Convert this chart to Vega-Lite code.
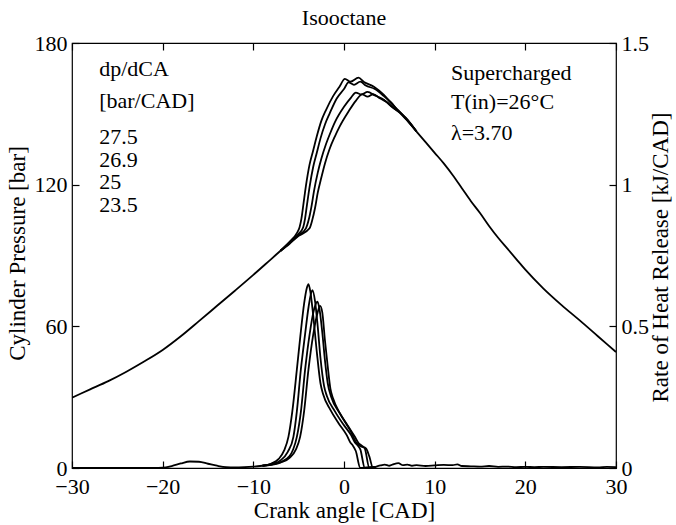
{
  "$schema": "https://vega.github.io/schema/vega-lite/v6.json",
  "width": 544,
  "height": 425,
  "autosize": {"type": "none"},
  "padding": {"left": 72, "top": 43, "right": 60, "bottom": 57},
  "background": "white",
  "title": {"text": "Isooctane", "font": "Liberation Serif", "fontSize": 22, "fontWeight": "normal", "color": "black", "offset": 2},
  "config": {
    "view": {"stroke": "black", "strokeWidth": 1.2},
    "font": "Liberation Serif",
    "axis": {
      "domain": false, "grid": false, "tickColor": "black", "tickWidth": 1.2, "tickSize": 7, "offset": -7,
      "labelFont": "Liberation Serif", "labelFontSize": 22, "labelColor": "black",
      "titleFont": "Liberation Serif", "titleFontSize": 23, "titleFontWeight": "normal", "titleColor": "black"
    }
  },
  "datasets": {
    "pressure": [
      {"run": "shared_pre", "cad": -30, "p": 29.8}, {"run": "shared_pre", "cad": -28, "p": 33.3}, {"run": "shared_pre", "cad": -26, "p": 36.8},
      {"run": "shared_pre", "cad": -24, "p": 40.8}, {"run": "shared_pre", "cad": -22, "p": 45.2}, {"run": "shared_pre", "cad": -20, "p": 50.0},
      {"run": "shared_pre", "cad": -18, "p": 55.8}, {"run": "shared_pre", "cad": -16, "p": 62.2}, {"run": "shared_pre", "cad": -14, "p": 68.7},
      {"run": "shared_pre", "cad": -12, "p": 75.2}, {"run": "shared_pre", "cad": -10, "p": 81.8}, {"run": "shared_pre", "cad": -8, "p": 88.6},
      {"run": "shared_pre", "cad": -7, "p": 92.0},

      {"run": "27.5", "cad": -7, "p": 92.0}, {"run": "27.5", "cad": -6, "p": 95.8}, {"run": "27.5", "cad": -5.2, "p": 99.5},
      {"run": "27.5", "cad": -4.9, "p": 102}, {"run": "27.5", "cad": -4.7, "p": 105.5}, {"run": "27.5", "cad": -4.5, "p": 111},
      {"run": "27.5", "cad": -4.2, "p": 119.5}, {"run": "27.5", "cad": -3.8, "p": 128.5}, {"run": "27.5", "cad": -3.4, "p": 134.5},
      {"run": "27.5", "cad": -3.0, "p": 140.5}, {"run": "27.5", "cad": -2.5, "p": 147}, {"run": "27.5", "cad": -2.0, "p": 151.5},
      {"run": "27.5", "cad": -1.2, "p": 157.5}, {"run": "27.5", "cad": -0.5, "p": 161.5}, {"run": "27.5", "cad": 0.1, "p": 164.8},
      {"run": "27.5", "cad": 0.7, "p": 163.6}, {"run": "27.5", "cad": 1.6, "p": 165.3}, {"run": "27.5", "cad": 2.2, "p": 163.5},
      {"run": "27.5", "cad": 3.3, "p": 161.5}, {"run": "27.5", "cad": 4.4, "p": 158}, {"run": "27.5", "cad": 5.2, "p": 154.5},
      {"run": "27.5", "cad": 6, "p": 151.5}, {"run": "27.5", "cad": 7, "p": 147.3}, {"run": "27.5", "cad": 8, "p": 142.5},

      {"run": "26.9", "cad": -7, "p": 92.0}, {"run": "26.9", "cad": -6, "p": 95.6}, {"run": "26.9", "cad": -5, "p": 99.2},
      {"run": "26.9", "cad": -4.5, "p": 102}, {"run": "26.9", "cad": -4.3, "p": 105.5}, {"run": "26.9", "cad": -4.1, "p": 111},
      {"run": "26.9", "cad": -3.8, "p": 119}, {"run": "26.9", "cad": -3.4, "p": 127.5}, {"run": "26.9", "cad": -3.0, "p": 133.5},
      {"run": "26.9", "cad": -2.6, "p": 139.5}, {"run": "26.9", "cad": -2.1, "p": 145.5}, {"run": "26.9", "cad": -1.6, "p": 150},
      {"run": "26.9", "cad": -0.8, "p": 156.5}, {"run": "26.9", "cad": 0, "p": 160.5}, {"run": "26.9", "cad": 0.5, "p": 163.3},
      {"run": "26.9", "cad": 1.1, "p": 162.3}, {"run": "26.9", "cad": 1.8, "p": 163.6}, {"run": "26.9", "cad": 2.4, "p": 162},
      {"run": "26.9", "cad": 3.4, "p": 160.5}, {"run": "26.9", "cad": 4.4, "p": 157.5}, {"run": "26.9", "cad": 5.2, "p": 154.8},
      {"run": "26.9", "cad": 6, "p": 151.2}, {"run": "26.9", "cad": 7, "p": 147.6}, {"run": "26.9", "cad": 8, "p": 142.5},

      {"run": "25", "cad": -7, "p": 92.0}, {"run": "25", "cad": -6, "p": 95.3}, {"run": "25", "cad": -5, "p": 98.6},
      {"run": "25", "cad": -4.2, "p": 101.5}, {"run": "25", "cad": -3.9, "p": 105}, {"run": "25", "cad": -3.6, "p": 110.5},
      {"run": "25", "cad": -3.3, "p": 117.5}, {"run": "25", "cad": -2.9, "p": 125}, {"run": "25", "cad": -2.5, "p": 131},
      {"run": "25", "cad": -2.0, "p": 137}, {"run": "25", "cad": -1.5, "p": 142}, {"run": "25", "cad": -1, "p": 146.5},
      {"run": "25", "cad": 0, "p": 153}, {"run": "25", "cad": 0.8, "p": 157}, {"run": "25", "cad": 1.3, "p": 159},
      {"run": "25", "cad": 1.9, "p": 158.2}, {"run": "25", "cad": 2.6, "p": 159.3}, {"run": "25", "cad": 3.4, "p": 157.8},
      {"run": "25", "cad": 4.4, "p": 156}, {"run": "25", "cad": 5.2, "p": 153.2}, {"run": "25", "cad": 6, "p": 151},
      {"run": "25", "cad": 7, "p": 147}, {"run": "25", "cad": 8, "p": 142.5},

      {"run": "23.5", "cad": -7, "p": 92.0}, {"run": "23.5", "cad": -6, "p": 95}, {"run": "23.5", "cad": -5, "p": 98.3},
      {"run": "23.5", "cad": -3.8, "p": 101.5}, {"run": "23.5", "cad": -3.5, "p": 105}, {"run": "23.5", "cad": -3.2, "p": 110},
      {"run": "23.5", "cad": -2.9, "p": 116.5}, {"run": "23.5", "cad": -2.5, "p": 123}, {"run": "23.5", "cad": -2.1, "p": 129},
      {"run": "23.5", "cad": -1.6, "p": 135}, {"run": "23.5", "cad": -1.0, "p": 140.5}, {"run": "23.5", "cad": -0.5, "p": 144.5},
      {"run": "23.5", "cad": 0.5, "p": 151}, {"run": "23.5", "cad": 1.3, "p": 155.5}, {"run": "23.5", "cad": 2.0, "p": 158.2},
      {"run": "23.5", "cad": 2.6, "p": 157.3}, {"run": "23.5", "cad": 3.2, "p": 158.3}, {"run": "23.5", "cad": 4.0, "p": 156.5},
      {"run": "23.5", "cad": 4.8, "p": 154.8}, {"run": "23.5", "cad": 5.5, "p": 152.3}, {"run": "23.5", "cad": 6.2, "p": 150.5},
      {"run": "23.5", "cad": 7, "p": 147.2}, {"run": "23.5", "cad": 8, "p": 142.5},

      {"run": "shared_post", "cad": 8, "p": 142.5}, {"run": "shared_post", "cad": 9, "p": 138}, {"run": "shared_post", "cad": 10, "p": 133.5},
      {"run": "shared_post", "cad": 11, "p": 129}, {"run": "shared_post", "cad": 12, "p": 124}, {"run": "shared_post", "cad": 13, "p": 118.5},
      {"run": "shared_post", "cad": 14, "p": 113}, {"run": "shared_post", "cad": 15, "p": 108}, {"run": "shared_post", "cad": 16, "p": 102.5},
      {"run": "shared_post", "cad": 17, "p": 97.5}, {"run": "shared_post", "cad": 18, "p": 93}, {"run": "shared_post", "cad": 19, "p": 88.5},
      {"run": "shared_post", "cad": 20, "p": 84}, {"run": "shared_post", "cad": 22, "p": 76}, {"run": "shared_post", "cad": 24, "p": 69},
      {"run": "shared_post", "cad": 26, "p": 62.5}, {"run": "shared_post", "cad": 28, "p": 55.8}, {"run": "shared_post", "cad": 30, "p": 49.1}
    ],
    "hrr": [
      {"run": "shared_pre", "cad": -30, "q": 0}, {"run": "shared_pre", "cad": -21, "q": 0}, {"run": "shared_pre", "cad": -20, "q": 0.001},
      {"run": "shared_pre", "cad": -19, "q": 0.007}, {"run": "shared_pre", "cad": -18, "q": 0.016}, {"run": "shared_pre", "cad": -17, "q": 0.023},
      {"run": "shared_pre", "cad": -16, "q": 0.022}, {"run": "shared_pre", "cad": -15, "q": 0.015}, {"run": "shared_pre", "cad": -14, "q": 0.008},
      {"run": "shared_pre", "cad": -13, "q": 0.003}, {"run": "shared_pre", "cad": -12, "q": 0.002}, {"run": "shared_pre", "cad": -11, "q": 0.003},
      {"run": "shared_pre", "cad": -10, "q": 0.005}, {"run": "shared_pre", "cad": -9, "q": 0.008},

      {"run": "27.5", "cad": -9, "q": 0.008}, {"run": "27.5", "cad": -8, "q": 0.016}, {"run": "27.5", "cad": -7.2, "q": 0.032},
      {"run": "27.5", "cad": -6.6, "q": 0.062}, {"run": "27.5", "cad": -6.13, "q": 0.11}, {"run": "27.5", "cad": -5.7, "q": 0.2},
      {"run": "27.5", "cad": -5.2, "q": 0.347}, {"run": "27.5", "cad": -4.8, "q": 0.47}, {"run": "27.5", "cad": -4.4, "q": 0.58},
      {"run": "27.5", "cad": -4.1, "q": 0.635}, {"run": "27.5", "cad": -3.92, "q": 0.649}, {"run": "27.5", "cad": -3.7, "q": 0.62},
      {"run": "27.5", "cad": -3.4, "q": 0.54}, {"run": "27.5", "cad": -3.0, "q": 0.41}, {"run": "27.5", "cad": -2.6, "q": 0.3},
      {"run": "27.5", "cad": -2.3, "q": 0.26}, {"run": "27.5", "cad": -1.5, "q": 0.205}, {"run": "27.5", "cad": -0.6, "q": 0.158},
      {"run": "27.5", "cad": 0.3, "q": 0.116}, {"run": "27.5", "cad": 0.7, "q": 0.09}, {"run": "27.5", "cad": 1.0, "q": 0.078},
      {"run": "27.5", "cad": 1.3, "q": 0.06}, {"run": "27.5", "cad": 1.8, "q": 0.0}, {"run": "27.5", "cad": 2.5, "q": 0.002},
      {"run": "27.5", "cad": 3.5, "q": 0.004},

      {"run": "26.9", "cad": -9, "q": 0.008}, {"run": "26.9", "cad": -8, "q": 0.014}, {"run": "26.9", "cad": -7, "q": 0.027},
      {"run": "26.9", "cad": -6.2, "q": 0.057}, {"run": "26.9", "cad": -5.58, "q": 0.11}, {"run": "26.9", "cad": -5.2, "q": 0.2},
      {"run": "26.9", "cad": -4.76, "q": 0.347}, {"run": "26.9", "cad": -4.3, "q": 0.47}, {"run": "26.9", "cad": -3.9, "q": 0.57},
      {"run": "26.9", "cad": -3.6, "q": 0.62}, {"run": "26.9", "cad": -3.48, "q": 0.628}, {"run": "26.9", "cad": -3.2, "q": 0.59},
      {"run": "26.9", "cad": -2.9, "q": 0.5}, {"run": "26.9", "cad": -2.6, "q": 0.39}, {"run": "26.9", "cad": -2.2, "q": 0.29},
      {"run": "26.9", "cad": -1.9, "q": 0.255}, {"run": "26.9", "cad": -1.0, "q": 0.2}, {"run": "26.9", "cad": -0.1, "q": 0.155},
      {"run": "26.9", "cad": 0.8, "q": 0.115}, {"run": "26.9", "cad": 1.2, "q": 0.09}, {"run": "26.9", "cad": 1.5, "q": 0.08},
      {"run": "26.9", "cad": 1.8, "q": 0.066}, {"run": "26.9", "cad": 2.3, "q": 0.0}, {"run": "26.9", "cad": 3, "q": 0.002},
      {"run": "26.9", "cad": 3.5, "q": 0.004},

      {"run": "25", "cad": -9, "q": 0.008}, {"run": "25", "cad": -8, "q": 0.012}, {"run": "25", "cad": -7, "q": 0.021},
      {"run": "25", "cad": -6, "q": 0.042}, {"run": "25", "cad": -5.6, "q": 0.066}, {"run": "25", "cad": -5.2, "q": 0.11},
      {"run": "25", "cad": -4.75, "q": 0.2}, {"run": "25", "cad": -4.29, "q": 0.347}, {"run": "25", "cad": -3.8, "q": 0.47},
      {"run": "25", "cad": -3.3, "q": 0.56}, {"run": "25", "cad": -2.93, "q": 0.587}, {"run": "25", "cad": -2.7, "q": 0.56},
      {"run": "25", "cad": -2.4, "q": 0.48}, {"run": "25", "cad": -2.1, "q": 0.38}, {"run": "25", "cad": -1.8, "q": 0.3},
      {"run": "25", "cad": -1.4, "q": 0.25}, {"run": "25", "cad": -0.5, "q": 0.195}, {"run": "25", "cad": 0.4, "q": 0.15},
      {"run": "25", "cad": 1.2, "q": 0.11}, {"run": "25", "cad": 1.6, "q": 0.088}, {"run": "25", "cad": 2.0, "q": 0.078},
      {"run": "25", "cad": 2.3, "q": 0.068}, {"run": "25", "cad": 2.8, "q": 0.0}, {"run": "25", "cad": 3.5, "q": 0.004},

      {"run": "23.5", "cad": -9, "q": 0.008}, {"run": "23.5", "cad": -8, "q": 0.011}, {"run": "23.5", "cad": -7, "q": 0.019},
      {"run": "23.5", "cad": -6, "q": 0.036}, {"run": "23.5", "cad": -5.3, "q": 0.066}, {"run": "23.5", "cad": -4.84, "q": 0.11},
      {"run": "23.5", "cad": -4.4, "q": 0.2}, {"run": "23.5", "cad": -3.92, "q": 0.347}, {"run": "23.5", "cad": -3.4, "q": 0.47},
      {"run": "23.5", "cad": -2.9, "q": 0.55}, {"run": "23.5", "cad": -2.64, "q": 0.572}, {"run": "23.5", "cad": -2.4, "q": 0.55},
      {"run": "23.5", "cad": -2.1, "q": 0.45}, {"run": "23.5", "cad": -1.8, "q": 0.36}, {"run": "23.5", "cad": -1.5, "q": 0.28},
      {"run": "23.5", "cad": -1.2, "q": 0.245}, {"run": "23.5", "cad": -0.4, "q": 0.19}, {"run": "23.5", "cad": 0.67, "q": 0.134},
      {"run": "23.5", "cad": 1.41, "q": 0.087}, {"run": "23.5", "cad": 1.9, "q": 0.076}, {"run": "23.5", "cad": 2.43, "q": 0.069},
      {"run": "23.5", "cad": 2.8, "q": 0.04}, {"run": "23.5", "cad": 3.2, "q": 0.0}, {"run": "23.5", "cad": 3.5, "q": 0.004},

      {"run": "tail", "cad": 3.5, "q": 0.004}, {"run": "tail", "cad": 4, "q": 0.009}, {"run": "tail", "cad": 4.5, "q": 0.012},
      {"run": "tail", "cad": 5, "q": 0.008}, {"run": "tail", "cad": 5.5, "q": 0.014}, {"run": "tail", "cad": 6, "q": 0.017},
      {"run": "tail", "cad": 6.5, "q": 0.01}, {"run": "tail", "cad": 7, "q": 0.012}, {"run": "tail", "cad": 7.5, "q": 0.008},
      {"run": "tail", "cad": 8, "q": 0.01}, {"run": "tail", "cad": 9, "q": 0.007}, {"run": "tail", "cad": 10, "q": 0.009},
      {"run": "tail", "cad": 11, "q": 0.011}, {"run": "tail", "cad": 12, "q": 0.01}, {"run": "tail", "cad": 12.5, "q": 0.013},
      {"run": "tail", "cad": 13, "q": 0.007}, {"run": "tail", "cad": 14, "q": 0.006}, {"run": "tail", "cad": 15, "q": 0.005},
      {"run": "tail", "cad": 16, "q": 0.007}, {"run": "tail", "cad": 17, "q": 0.004}, {"run": "tail", "cad": 18, "q": 0.005},
      {"run": "tail", "cad": 19, "q": 0.003}, {"run": "tail", "cad": 20, "q": 0.004}, {"run": "tail", "cad": 21, "q": 0.003},
      {"run": "tail", "cad": 22, "q": 0.004}, {"run": "tail", "cad": 24, "q": 0.003}, {"run": "tail", "cad": 26, "q": 0.004},
      {"run": "tail", "cad": 28, "q": 0.002}, {"run": "tail", "cad": 29, "q": 0.004}, {"run": "tail", "cad": 30, "q": 0.003}
    ],
    "notes": [
      {"label": "dp/dCA", "cad": -27.0, "p": 169},
      {"label": "[bar/CAD]", "cad": -27.0, "p": 155.5},
      {"label": "27.5", "cad": -27.0, "p": 140},
      {"label": "26.9", "cad": -27.0, "p": 130.5},
      {"label": "25", "cad": -27.0, "p": 121},
      {"label": "23.5", "cad": -27.0, "p": 111.5},
      {"label": "Supercharged", "cad": 11.8, "p": 167.5},
      {"label": "T(in)=26°C", "cad": 11.8, "p": 155},
      {"label": "λ=3.70", "cad": 11.8, "p": 142}
    ]
  },
  "layer": [
    {
      "data": {"name": "pressure"},
      "mark": {"type": "line", "color": "black", "strokeWidth": 1.8, "interpolate": "monotone", "clip": true},
      "encoding": {
        "x": {"field": "cad", "type": "quantitative", "scale": {"domain": [-30, 30], "nice": false, "zero": false},
              "axis": {"orient": "bottom", "values": [-30, -20, -10, 0, 10, 20, 30], "labelPadding": 8, "title": "Crank angle [CAD]", "titleX": 272, "titleY": 49, "titleBaseline": "middle", "titleAlign": "center", "labelFlush": false}},
        "y": {"field": "p", "type": "quantitative", "scale": {"domain": [0, 180], "nice": false, "zero": false},
              "axis": {"orient": "left", "values": [0, 60, 120, 180], "labelPadding": 5, "title": "Cylinder Pressure [bar]", "titleAngle": 270, "titleX": -62, "titleY": 210, "titleBaseline": "middle", "titleAlign": "center", "labelFlush": false}},
        "detail": {"field": "run", "type": "nominal"},
        "order": {"field": "cad", "type": "quantitative"}
      }
    },
    {
      "data": {"name": "notes"},
      "mark": {"type": "text", "align": "left", "baseline": "middle", "font": "Liberation Serif", "fontSize": 22, "color": "black"},
      "encoding": {
        "x": {"field": "cad", "type": "quantitative", "axis": null},
        "y": {"field": "p", "type": "quantitative", "axis": null, "scale": {"domain": [0, 180], "nice": false, "zero": false}},
        "text": {"field": "label", "type": "nominal"}
      }
    },
    {
      "data": {"name": "hrr"},
      "mark": {"type": "line", "color": "black", "strokeWidth": 1.8, "interpolate": "monotone", "clip": true},
      "encoding": {
        "x": {"field": "cad", "type": "quantitative", "scale": {"domain": [-30, 30], "nice": false, "zero": false},
              "axis": {"orient": "top", "values": [-30, -20, -10, 0, 10, 20, 30], "labels": false, "title": null}},
        "y": {"field": "q", "type": "quantitative", "scale": {"domain": [0, 1.5], "nice": false, "zero": false},
              "axis": {"orient": "right", "values": [0, 0.5, 1, 1.5], "format": "~g", "labelPadding": 5, "title": "Rate of Heat Release [kJ/CAD]", "titleAngle": 270, "titleX": 51, "titleY": 214, "titleBaseline": "middle", "titleAlign": "center", "labelFlush": false}},
        "detail": {"field": "run", "type": "nominal"},
        "order": {"field": "cad", "type": "quantitative"}
      }
    }
  ],
  "resolve": {"scale": {"y": "independent"}, "axis": {"x": "independent"}}
}
